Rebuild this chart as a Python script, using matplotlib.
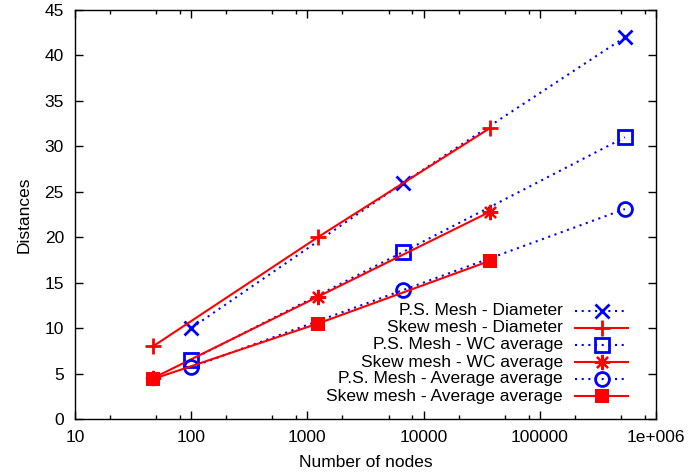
import matplotlib
matplotlib.use("Agg")
import matplotlib.pyplot as plt
from matplotlib.ticker import LogLocator, FixedLocator, NullFormatter

plt.rcParams['font.family'] = ['Liberation Sans', 'DejaVu Sans']

# node counts
ps_nodes = [100, 6700, 540000]
skew_nodes = [47, 1230, 37200]

# P.S. Mesh
ps_diameter = [10, 26, 42]
ps_wc_avg = [6.5, 18.4, 31]
ps_avg_avg = [5.7, 14.2, 23.1]

# Skew mesh
skew_diameter = [8, 20, 32]
skew_wc_avg = [4.5, 13.45, 22.8]
skew_avg_avg = [4.4, 10.5, 17.4]

labels = ['P.S. Mesh - Diameter', 'Skew mesh - Diameter',
          'P.S. Mesh - WC average', 'Skew mesh - WC average',
          'P.S. Mesh - Average average', 'Skew mesh - Average average']

blue = '#0000ff'
red = '#ff0000'
dotted = (0, (1, 2.2))
asterisk = (8, 2, 0)

series = [
    (ps_nodes, ps_diameter, dict(color=blue, ls=dotted, marker='x', ms=10, mew=2)),
    (skew_nodes, skew_diameter, dict(color=red, ls='-', marker='+', ms=11, mew=2)),
    (ps_nodes, ps_wc_avg, dict(color=blue, ls=dotted, marker='s', ms=9.5, mew=2, mfc='none')),
    (skew_nodes, skew_wc_avg, dict(color=red, ls='-', marker=asterisk, ms=11, mew=1.6)),
    (ps_nodes, ps_avg_avg, dict(color=blue, ls=dotted, marker='o', ms=10, mew=2, mfc='none')),
    (skew_nodes, skew_avg_avg, dict(color=red, ls='-', marker='s', ms=10, mew=0)),
]

fig = plt.figure(figsize=(6.9, 4.75), dpi=100)
ax = fig.add_axes([75 / 690, 1 - 419 / 475, 581 / 690, 409 / 475])

for x, y, st in series:
    ax.plot(x, y, lw=1.5, **st)

ax.set_xscale('log')
ax.set_xlim(10, 1e6)
ax.set_ylim(0, 45)
ax.set_yticks(range(0, 46, 5))
ax.xaxis.set_major_locator(FixedLocator([10, 100, 1000, 10000, 100000, 1000000]))
ax.set_xticklabels(['10', '100', '1000', '10000', '100000', '1e+006'])
ax.xaxis.set_minor_locator(LogLocator(base=10, subs=[2, 5, 8]))
ax.xaxis.set_minor_formatter(NullFormatter())

ax.tick_params(which='both', direction='in', top=True, right=True, labelsize=12.5, colors='black')
ax.tick_params(which='major', length=6, width=1, pad=8)
ax.tick_params(which='minor', length=3, width=1)
for s in ax.spines.values():
    s.set_linewidth(1)

ax.set_xlabel('Number of nodes', fontsize=12.5, labelpad=7)
ax.set_ylabel('Distances', fontsize=12.5, labelpad=9)

# key, gnuplot style: text right aligned, sample to its right
row_y = [0.265, 0.223, 0.181, 0.139, 0.098, 0.056]
for (x, y, st), lab, ry in zip(series, labels, row_y):
    ax.text(0.840, ry, lab, transform=ax.transAxes, ha='right', va='center', fontsize=12.5)
    ax.plot([0.861, 0.9065, 0.952], [ry, ry, ry], transform=ax.transAxes,
            lw=1.5, markevery=[1], clip_on=False, **st)

fig.savefig('out.png', dpi=100)
